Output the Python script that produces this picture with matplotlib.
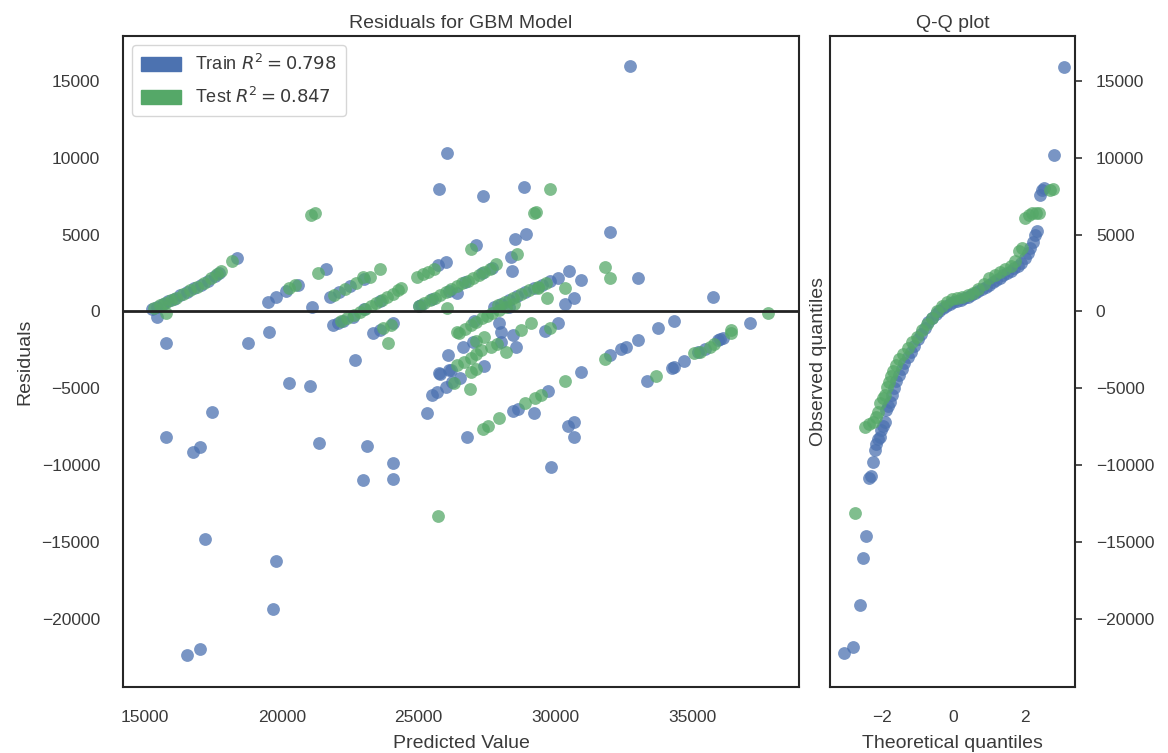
import numpy as np
import matplotlib
matplotlib.use("Agg")
import matplotlib.pyplot as plt
import matplotlib.patches as mpatches
import seaborn as sns

# residual plot: (predicted value, residual)
train_pred = [
    15250, 15450, 15650, 15850, 16050, 16300, 16550, 16800, 17050, 17300, 17550, 17700,
    18350, 15430, 15760, 15770, 16750, 17025, 17455, 17210, 16550, 17030,
    18780, 19480, 19790, 19520, 20160, 20590, 20280, 21050, 19790, 19670, 21110, 21630, 21360,
    21750, 22100, 22500, 23000, 21880, 22050, 22250, 22600, 23000, 23600,
    23340, 23600, 24080, 22670, 23130, 24060, 22980, 24060,
    25700, 25990, 25100, 25500, 26100, 26700, 27300, 27700, 25000, 26420,
    26050, 25745, 27340, 28850, 32740, 28910, 28530, 27090, 28380, 28400,
    32000, 33000, 35740, 30480, 30920, 30690, 30350,
    27770, 28000, 28300, 28600, 28900, 29200, 29500, 29800, 30100,
    37100, 34340, 33750,
    33350, 34270, 34350, 34700, 35200, 35450, 35930, 36120, 36000,
    30930, 31990, 32400, 32580, 33020,
    26770, 28440, 28630, 29220, 29730, 30470, 30690, 30660, 29850,
    25310, 25500, 25990, 25740, 26170, 26080, 25680, 26230, 27400, 25800, 26100,
    28010, 28560, 29610, 30100, 26620, 27030, 28010, 28440, 27950, 28300, 26500, 27000,
]
train_resid = [
    150, 300, 480, 650, 820, 1050, 1280, 1500, 1750, 2000, 2300, 2500,
    3500, -370, -2060, -8180, -9120, -8830, -6510, -14760, -22300, -21900,
    -2060, 640, 970, -1300, 1300, 1730, -4620, -4840, -16200, -19300, 320, 2770, -8530,
    970, 1250, 1650, 2100, -870, -750, -600, -350, 150, 700,
    -1410, -1200, -760, -3150, -8740, -9870, -10960, -10890,
    3000, 3200, 450, 820, 1350, 1900, 2480, 2830, 350, 1190,
    10300, 7960, 7520, 8060, 15980, 5050, 4720, 4290, 3510, 2600,
    5160, 2170, 970, 2640, 2060, 860, 490,
    320, 500, 750, 1000, 1250, 1500, 1750, 1950, 2170,
    -760, -610, -1090,
    -4520, -3650, -3600, -3190, -2650, -2450, -1850, -1740, -1800,
    -3950, -2820, -2450, -2280, -1850,
    -8180, -6450, -6340, -6620, -5170, -7420, -7200, -8180, -10090,
    -6620, -5430, -4930, -4010, -3800, -2820, -5210, -4560, -3520, -4060, -3800,
    -1960, -2280, -1240, -720, -2280, -590, -1310, -1520, -760, 300, -4300, -2000,
]

test_pred = [
    15350, 15550, 15750, 15950, 16150, 16400, 16650, 16900, 17150, 17400, 17650, 17780,
    18200, 15770, 20280, 20500, 21080, 21200, 21330,
    21900, 22300, 22700, 22980, 23220, 23590,
    22150, 22400, 22650, 22850, 23050, 23250, 23450, 23650, 23850, 24050, 24250, 24350,
    23880, 24000, 23700, 25700,
    24950, 25150, 25350, 25550,
    25000, 25200, 25400, 25600, 25800, 26000, 26200, 26400, 26600, 26800, 27000, 27200, 27400, 27600,
    26050, 29800, 29220, 29300, 26900, 28600, 27830, 31800, 32000, 30350, 29680, 29360,
    27900, 28150, 28450, 28750, 29050, 29350, 29650,
    37770, 36400,
    33680, 35070, 35300, 35630, 35800, 36420,
    30350, 31800,
    27340, 27520, 27950, 28900, 29250, 29490,
    26300, 26890, 26910, 27100,
    26400, 26660, 26900, 27100, 27280, 27640, 27850,
    26470, 26700, 26900, 27100, 27300, 27500, 27700, 27950, 28200, 28500,
    27400, 27100, 28200, 28750, 29120, 29800, 26420,
]
test_resid = [
    250, 420, 560, 740, 900, 1130, 1380, 1600, 1850, 2150, 2450, 2650,
    3300, -70, 1550, 1700, 6240, 6430, 2490,
    1100, 1450, 1850, 2270, 2270, 2770,
    -650, -450, -250, -50, 150, 350, 550, 750, 950, 1150, 1400, 1500,
    -2060, -850, -1100, -13300,
    2270, 2420, 2580, 2750,
    360, 540, 730, 900, 1080, 1270, 1450, 1640, 1830, 2010, 2200, 2380, 2570, 2760,
    210, 7960, 6400, 6450, 4070, 3730, 3080, 2920, 2170, 1510, 860, 1510,
    400, 620, 870, 1120, 1370, 1600, 1850,
    -70, -1200,
    -4190, -2710, -2600, -2280, -2100, -1370,
    -4520, -3100,
    -7640, -7420, -6940, -5970, -5600, -5430,
    -4620, -5060, -3910, -3750,
    -3500, -3260, -3000, -2750, -2500, -2280, -2100,
    -1370, -1150, -900, -700, -450, -280, -110, 100, 300, 490,
    -1630, -1900, -2610, -1200, -720, -1090, -1310,
]

# Q-Q plot: theoretical quantile vs observed residual
train_q = [
    -3.07, -2.81, -2.61, -2.54, -2.44, -2.35, -2.30, -2.24, -2.20, -2.15, -2.10, -2.06, -2.03,
    -1.98, -1.92, -1.88, -1.83, -1.78, -1.72, -1.66, -1.60, -1.52, -1.45, -1.37, -1.28, -1.19,
    -1.10, -1.00, -0.90, -0.80, -0.70, -0.60, -0.50, -0.40, -0.30, -0.20, -0.10, 0.00, 0.10,
    0.20, 0.30, 0.40, 0.50, 0.60, 0.70, 0.80, 0.90, 1.00, 1.10, 1.20, 1.30, 1.40, 1.50, 1.60,
    1.70, 1.80, 1.90, 2.00, 2.08, 2.15, 2.22, 2.28, 2.33, 2.43, 2.48, 2.52, 2.81, 3.09,
]
train_obs = [
    -22200, -21800, -19100, -16000, -14600, -10800, -10700, -9800, -9000, -8600, -8300, -8150, -7700,
    -7450, -7150, -6400, -6150, -5850, -5400, -5000, -4500, -4100, -3750, -3350, -2950, -2600,
    -2250, -1800, -1450, -1050, -700, -400, -150, 50, 200, 350, 480, 600, 680,
    760, 850, 950, 1050, 1180, 1300, 1450, 1600, 1750, 1900, 2050, 2200, 2350, 2500, 2650,
    2800, 2950, 3150, 3450, 3800, 4150, 4500, 5000, 5250, 7550, 7900, 8000, 10200, 15900,
]
test_q = [
    -2.75, -2.47, -2.36, -2.24, -2.15, -2.10, -2.06, -1.98, -1.92, -1.86, -1.80, -1.74, -1.69,
    -1.60, -1.51, -1.40, -1.28, -1.15, -1.01, -0.87, -0.73, -0.60, -0.46, -0.32, -0.18, -0.05,
    0.10, 0.25, 0.40, 0.55, 0.70, 0.85, 1.00, 1.15, 1.30, 1.45, 1.60, 1.72, 1.83, 1.92, 2.01,
    2.10, 2.20, 2.30, 2.38, 2.70, 2.78,
]
test_obs = [
    -13100, -7500, -7300, -7150, -6850, -6500, -5950, -5650, -5400, -4900, -4550, -4200, -3850,
    -3500, -3100, -2750, -2400, -2000, -1650, -1200, -800, -400, 50, 350, 630, 780,
    880, 950, 1050, 1200, 1450, 1800, 2150, 2350, 2550, 2750, 2950, 3300, 3950, 4100, 6100,
    6300, 6400, 6400, 6400, 7900, 7950,
]

train_r2 = 0.798
test_r2 = 0.847

sns.set_style("white")
plt.rcParams["font.family"] = ["Liberation Sans", "DejaVu Sans"]
plt.rcParams["mathtext.fontset"] = "dejavusans"
plt.rcParams["text.color"] = "#3a3a3a"
plt.rcParams["axes.labelcolor"] = "#3a3a3a"
plt.rcParams["xtick.color"] = "#3a3a3a"
plt.rcParams["ytick.color"] = "#3a3a3a"
plt.rcParams["axes.edgecolor"] = "#262626"
plt.rcParams["axes.linewidth"] = 1.5

blue = "#4C72B0"
green = "#55A868"

fig = plt.figure(figsize=(11.68, 7.53), dpi=100)
ax = fig.add_axes([0.1053, 0.0876, 0.5788, 0.8646])
qq = fig.add_axes([0.7106, 0.0876, 0.2098, 0.8646], sharey=ax)

ax.scatter(train_pred, train_resid, c=blue, alpha=0.75, s=85, linewidths=0)
ax.scatter(test_pred, test_resid, c=green, alpha=0.75, s=85, linewidths=0)
ax.axhline(0, color="#222222", lw=2)
ax.set_xlim(14200, 38900)
ax.set_ylim(-24400, 17900)
ax.set_title("Residuals for GBM Model", fontsize=14)
ax.set_xlabel("Predicted Value", fontsize=14, labelpad=7)
ax.set_ylabel("Residuals", fontsize=14, labelpad=6)
ax.tick_params(axis="x", labelsize=12.5, pad=13)
ax.tick_params(axis="y", labelsize=12.5, pad=13)

handles = [mpatches.Patch(color=blue, label="Train $R^2 = {:0.3f}$".format(train_r2)),
           mpatches.Patch(color=green, label="Test $R^2 = {:0.3f}$".format(test_r2))]
ax.legend(handles=handles, loc="upper left", frameon=True, fontsize=13,
          handlelength=2.2, handleheight=0.8, labelspacing=0.7, borderpad=0.5)

qq.scatter(train_q, train_obs, c=blue, alpha=0.75, s=85, linewidths=0)
qq.scatter(test_q, test_obs, c=green, alpha=0.75, s=85, linewidths=0)
qq.set_xlim(-3.45, 3.40)
qq.set_xticks([-2, 0, 2])
qq.set_title("Q-Q plot", fontsize=14)
qq.set_xlabel("Theoretical quantiles", fontsize=14, labelpad=7)
qq.set_ylabel("Observed quantiles", fontsize=14, labelpad=2)
qq.yaxis.tick_right()
qq.tick_params(axis="y", which="major", right=True, length=5, width=1.25,
               labelsize=12.5, pad=10)
qq.tick_params(axis="x", labelsize=12.5, pad=13)

fig.savefig("out.png", dpi=100)
